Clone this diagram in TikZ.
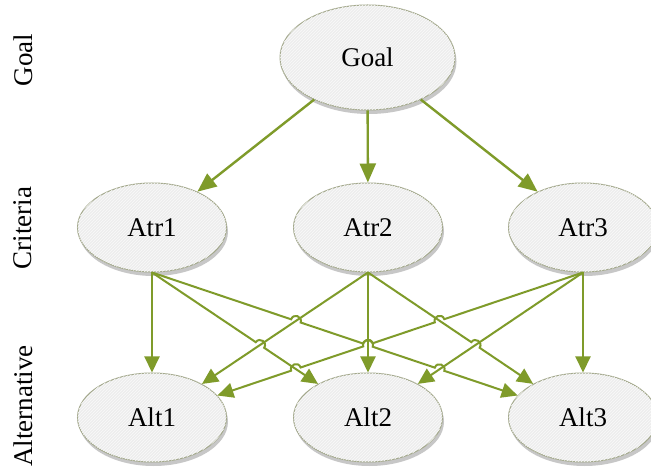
\documentclass[tikz,border=0pt]{standalone}
\usepackage{fontspec}
\setmainfont{Liberation Serif}
\usetikzlibrary{arrows.meta,shapes.geometric,patterns,shadows,intersections,calc}
\definecolor{arrcol}{RGB}{127,155,42}
\definecolor{bordcol}{RGB}{163,168,140}
\definecolor{fillcol}{RGB}{237,237,237}
\begin{document}
\begin{tikzpicture}[x=1pt,y=1pt,
  ell/.style={ellipse, draw=bordcol, line width=1pt, inner sep=0pt,
    minimum width=149pt, minimum height=89pt,
    drop shadow={shadow xshift=1.5pt, shadow yshift=-4pt, fill=black!22, opacity=1},
    fill=fillcol, postaction={pattern=north east lines, pattern color=white!70!fillcol},
    font=\fontsize{27}{32}\selectfont},
  bigell/.style={ell, minimum width=175pt, minimum height=105pt},
  side/.style={rotate=90, font=\fontsize{27}{32}\selectfont},
  toparr/.style={draw=arrcol, line width=2.4pt, -{Triangle[length=19pt,width=16pt]}},
  arr/.style={draw=arrcol, line width=2pt, -{Triangle[length=16pt,width=15pt]}},
  hopl/.style={bend left=90, looseness=1.7},
  hopr/.style={bend right=90, looseness=1.7}]
\clip (0,0) rectangle (651,-470);
\fill[white] (0,0) rectangle (651,-470);
\def\hr{5pt}
% side labels
\node[side] (lgoal) at (23,-60) {Goal};
\node[side] (lcrit) at (23,-228) {Criteria};
\node[side] (lalt) at (23,-406) {Alternative};
% nodes
\node[bigell] (goal) at (367.5,-57.5) {Goal};
\node[ell] (atr1) at (152,-227.5) {Atr1};
\node[ell] (atr2) at (368,-227.5) {Atr2};
\node[ell] (atr3) at (583,-227.5) {Atr3};
\node[ell] (alt1) at (152,-417.5) {Alt1};
\node[ell] (alt2) at (368,-417.5) {Alt2};
\node[ell] (alt3) at (583,-417.5) {Alt3};
% goal arrows
\draw[toparr] (goal) -- (atr1);
\draw[toparr] (goal) -- (atr2);
\draw[toparr] (goal) -- (atr3);
% helper paths
\path[name path=p2] (atr1.south) -- (alt2.center);
\path[name path=p3] (atr1.south) -- (alt3.center);
\path[name path=p4] (atr2.south) -- (alt1.center);
\path[name path=p5] (atr2.south) -- (alt2.center);
\path[name path=p6] (atr2.south) -- (alt3.center);
\path[name path=p7] (atr3.south) -- (alt1.center);
\path[name path=p8] (atr3.south) -- (alt2.center);
\path[name intersections={of=p3 and p4, by=x34}];
\path[name intersections={of=p3 and p5, by=x35}];
\path[name intersections={of=p3 and p8, by=x38}];
\path[name intersections={of=p7 and p6, by=x76}];
\path[name intersections={of=p7 and p5, by=x75}];
\path[name intersections={of=p7 and p2, by=x72}];
\path[name intersections={of=p2 and p4, by=x24}];
\path[name intersections={of=p6 and p8, by=x68}];
% straight arrows
\draw[arr] (atr1.south) -- (alt1);
\draw[arr] (atr2.south) -- (alt2);
\draw[arr] (atr3.south) -- (alt3);
\draw[arr] (atr2.south) -- (alt1);
\draw[arr] (atr3.south) -- (alt2);
% arrows with hops
\draw[arr] (atr1.south) -- ($(x24)!\hr!(atr1.south)$) to[hopl] ($(x24)!\hr!(alt2.center)$) -- (alt2);
\draw[arr] (atr2.south) -- ($(x68)!\hr!(atr2.south)$) to[hopl] ($(x68)!\hr!(alt3.center)$) -- (alt3);
\draw[arr] (atr1.south) -- ($(x34)!\hr!(atr1.south)$) to[hopl] ($(x34)!\hr!(alt3.center)$)
  -- ($(x35)!\hr!(atr1.south)$) to[hopl] ($(x35)!\hr!(alt3.center)$)
  -- ($(x38)!\hr!(atr1.south)$) to[hopl] ($(x38)!\hr!(alt3.center)$) -- (alt3);
\draw[arr] (atr3.south) -- ($(x76)!\hr!(atr3.south)$) to[hopr] ($(x76)!\hr!(alt1.center)$)
  -- ($(x75)!\hr!(atr3.south)$) to[hopr] ($(x75)!\hr!(alt1.center)$)
  -- ($(x72)!\hr!(atr3.south)$) to[hopr] ($(x72)!\hr!(alt1.center)$) -- (alt1);
\end{tikzpicture}
\end{document}
